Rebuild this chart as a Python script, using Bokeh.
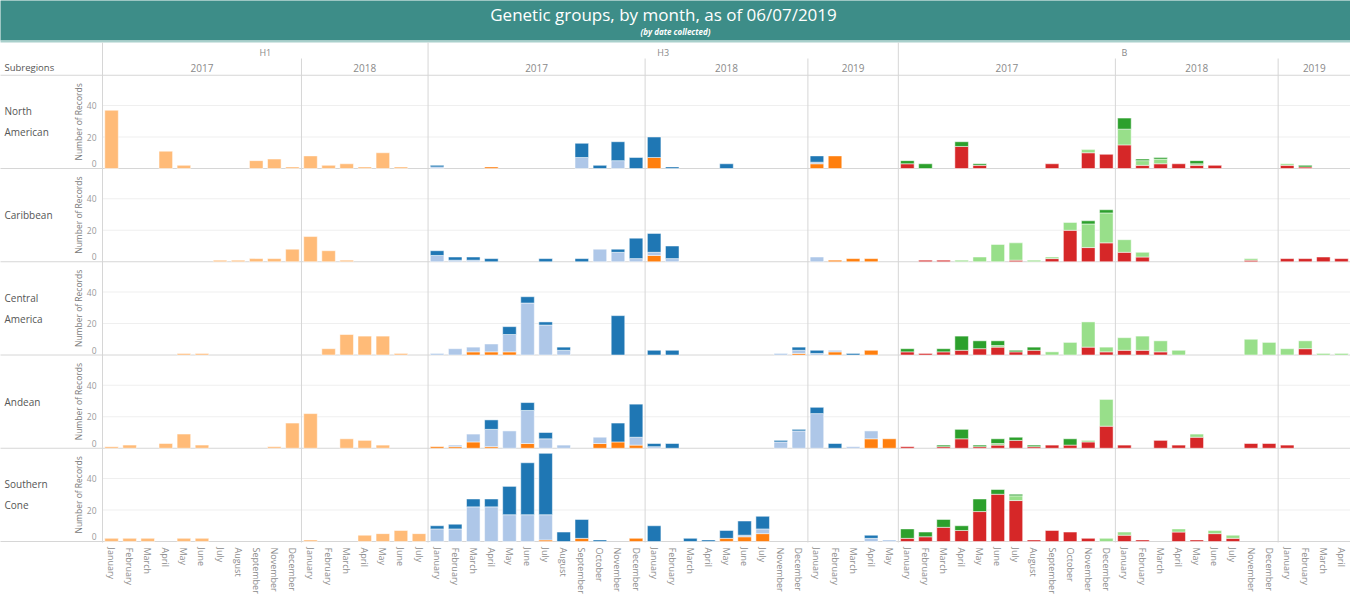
import math
from bokeh.plotting import figure
from bokeh.models import Range1d, FixedTicker, ColumnDataSource
from bokeh.core.properties import value
from bokeh.embed import file_html
from bokeh.resources import INLINE

# ---------------- data ----------------
TITLE = "Genetic groups, by month, as of 06/07/2019"
SUBTITLE = "(by date collected)"
REGIONS = ["North American", "Caribbean", "Central America", "Andean", "Southern Cone"]
REGION_LABELS = ["North\nAmerican", "Caribbean", "Central\nAmerica", "Andean", "Southern\nCone"]

ALL_MONTHS = ["January", "February", "March", "April", "May", "June", "July",
              "August", "September", "October", "November", "December"]
H1_PERIODS = [("2017", ["January", "February", "March", "April", "May", "June", "July",
                        "August", "September", "November", "December"]),
              ("2018", ["January", "February", "March", "April", "May", "June", "July"])]
H3_PERIODS = [("2017", ALL_MONTHS),
              ("2018", ["January", "February", "March", "April", "May", "June", "July",
                        "November", "December"]),
              ("2019", ["January", "February", "March", "April", "May"])]
B_PERIODS = [("2017", ALL_MONTHS),
             ("2018", ["January", "February", "March", "April", "May", "June", "July",
                       "November", "December"]),
             ("2019", ["January", "February", "March", "April"])]

# H1 (one genetic group)
H1_VALUES = {
    "North American":  [37, 0, 0, 11, 2, 0, 0, 0, 5, 6, 1,   8, 2, 3, 1, 10, 1, 0],
    "Caribbean":       [0, 0, 0, 0, 0, 0, 1, 1, 2, 2, 8,     16, 7, 1, 0, 0, 0, 0],
    "Central America": [0, 0, 0, 0, 1, 1, 0, 0, 0, 0, 0,     0, 4, 13, 12, 12, 1, 0],
    "Andean":          [1, 2, 0, 3, 9, 2, 0, 0, 0, 1, 16,    22, 0, 6, 5, 2, 0, 0],
    "Southern Cone":   [2, 2, 2, 0, 2, 2, 0, 0, 0, 0, 0,     1, 0, 0, 4, 5, 7, 5],
}

# H3 groups: orange, light blue, dark blue
H3_ORANGE = {
    "North American":  [0, 0, 0, 1, 0, 0, 0, 0, 0, 0, 0, 0,   7, 0, 0, 0, 0, 0, 0, 0, 0,   3, 8, 0, 0, 0],
    "Caribbean":       [0, 0, 0, 0, 0, 0, 0, 0, 0, 0, 0, 0,   4, 0, 0, 0, 0, 0, 0, 0, 0,   0, 1, 2, 2, 0],
    "Central America": [0, 0, 2, 2, 2, 0, 0, 0, 0, 0, 0, 0,   0, 0, 0, 0, 0, 0, 0, 0, 1,   0, 2, 0, 3, 0],
    "Andean":          [1, 1, 4, 1, 0, 3, 0, 0, 0, 3, 4, 2,   0, 0, 0, 0, 0, 0, 0, 0, 0,   0, 0, 0, 6, 6],
    "Southern Cone":   [0, 0, 0, 0, 0, 0, 1, 0, 2, 0, 0, 2,   0, 0, 0, 0, 2, 3, 5, 0, 0,   0, 0, 0, 0, 0],
}
H3_LIGHT_BLUE = {
    "North American":  [1, 0, 0, 0, 0, 0, 0, 0, 7, 0, 5, 0,   0, 0, 0, 0, 0, 0, 0, 0, 0,   1, 0, 0, 0, 0],
    "Caribbean":       [4, 1, 1, 0, 0, 0, 0, 0, 0, 8, 6, 2,   2, 2, 0, 0, 0, 0, 0, 0, 0,   3, 0, 0, 0, 0],
    "Central America": [1, 4, 3, 5, 11, 33, 19, 3, 0, 0, 0, 0, 0, 0, 0, 0, 0, 0, 0, 1, 2,   1, 1, 0, 0, 0],
    "Andean":          [0, 1, 5, 11, 11, 21, 6, 2, 0, 4, 0, 5, 1, 0, 0, 0, 0, 0, 0, 4, 11, 22, 0, 1, 5, 0],
    "Southern Cone":   [8, 8, 22, 22, 17, 17, 16, 0, 0, 0, 0, 0, 0, 0, 0, 0, 0, 1, 3, 0, 0, 0, 0, 0, 2, 1],
}
H3_BLUE = {
    "North American":  [1, 0, 0, 0, 0, 0, 0, 0, 9, 2, 12, 7,  13, 1, 0, 0, 3, 0, 0, 0, 0,  4, 0, 0, 0, 0],
    "Caribbean":       [3, 2, 2, 2, 0, 0, 2, 0, 2, 0, 2, 13,  12, 8, 0, 0, 0, 0, 0, 0, 0,  0, 0, 0, 0, 0],
    "Central America": [0, 0, 0, 0, 5, 4, 2, 2, 0, 0, 25, 0,  3, 3, 0, 0, 0, 0, 0, 0, 2,   2, 0, 1, 0, 0],
    "Andean":          [0, 0, 0, 6, 0, 5, 4, 0, 0, 0, 12, 21, 2, 3, 0, 0, 0, 0, 0, 1, 1,   4, 3, 0, 0, 0],
    "Southern Cone":   [2, 3, 5, 5, 18, 33, 39, 6, 12, 1, 0, 0, 10, 0, 2, 1, 5, 9, 8, 0, 0, 0, 0, 0, 2, 0],
}

# B groups: red, light green, green
B_RED = {
    "North American":  [3, 0, 0, 14, 2, 0, 0, 0, 3, 0, 10, 9,  15, 2, 3, 3, 2, 2, 0, 0, 0,  2, 1, 0, 0],
    "Caribbean":       [0, 1, 1, 0, 0, 0, 1, 0, 2, 20, 9, 12,   6, 3, 0, 0, 0, 0, 0, 1, 0,   2, 2, 3, 2],
    "Central America": [2, 1, 2, 3, 4, 5, 2, 3, 0, 0, 5, 2,     3, 3, 2, 0, 0, 0, 0, 0, 0,   0, 4, 0, 0],
    "Andean":          [1, 0, 1, 6, 1, 2, 5, 1, 2, 2, 4, 14,    2, 0, 5, 2, 7, 0, 0, 3, 3,   2, 0, 0, 0],
    "Southern Cone":   [2, 3, 9, 7, 19, 30, 26, 1, 7, 6, 2, 0,  4, 1, 0, 6, 1, 5, 2, 0, 0,   0, 0, 0, 0],
}
B_LIGHT_GREEN = {
    "North American":  [0, 0, 0, 0, 0, 0, 0, 0, 0, 0, 2, 0,    10, 3, 3, 0, 1, 0, 0, 0, 0,  1, 0, 0, 0],
    "Caribbean":       [0, 0, 0, 1, 3, 11, 11, 1, 1, 5, 15, 19, 8, 3, 0, 0, 0, 0, 0, 1, 0,   0, 0, 0, 0],
    "Central America": [0, 0, 0, 0, 0, 1, 0, 0, 2, 8, 16, 3,   8, 9, 7, 3, 0, 0, 0, 10, 8,  4, 5, 1, 1],
    "Andean":          [0, 0, 0, 0, 0, 1, 0, 0, 0, 0, 1, 17,   0, 0, 0, 0, 2, 0, 0, 0, 0,   0, 0, 0, 0],
    "Southern Cone":   [0, 0, 0, 0, 0, 0, 3, 0, 0, 0, 0, 2,    2, 0, 0, 2, 0, 2, 2, 0, 0,   0, 0, 0, 0],
}
B_GREEN = {
    "North American":  [2, 3, 0, 3, 1, 0, 0, 0, 0, 0, 0, 0,    7, 1, 1, 0, 2, 0, 0, 0, 0,   0, 1, 0, 0],
    "Caribbean":       [0, 0, 0, 0, 0, 0, 0, 0, 0, 0, 2, 2,    0, 0, 0, 0, 0, 0, 0, 0, 0,   0, 0, 0, 0],
    "Central America": [2, 0, 2, 9, 5, 3, 1, 2, 0, 0, 0, 0,    0, 0, 0, 0, 0, 0, 0, 0, 0,   0, 0, 0, 0],
    "Andean":          [0, 0, 1, 6, 1, 3, 2, 1, 0, 4, 0, 0,    0, 0, 0, 0, 0, 0, 0, 0, 0,   0, 0, 0, 0],
    "Southern Cone":   [6, 3, 5, 3, 8, 3, 1, 0, 0, 0, 0, 0,    0, 0, 0, 0, 0, 0, 0, 0, 0,   0, 0, 0, 0],
}

Y_TICKS = [0, 20, 40]

# ---------------- styles / layout ----------------
TYPES = [
    ("H1", H1_PERIODS, [(H1_VALUES, "#ffbb78")]),
    ("H3", H3_PERIODS, [(H3_ORANGE, "#ff7f0e"), (H3_LIGHT_BLUE, "#aec7e8"), (H3_BLUE, "#1f77b4")]),
    ("B", B_PERIODS, [(B_RED, "#d62728"), (B_LIGHT_GREEN, "#98df8a"), (B_GREEN, "#2ca02c")]),
]

FONT = value("Open Sans")
PXC = 18.087    # pixels per month column
PPR = 1.575     # pixels per record
W, H = 1350, 598


def xd(page_x):
    return (page_x - 110) / PXC - 0.5


def yd(page_y):
    return (549 - page_y) / PPR


ROWH = 93.25 / PPR
NROW = len(REGIONS)
bases = [(NROW - 1 - r) * ROWH for r in range(NROW)]

p = figure(width=W, height=H, output_backend="svg", toolbar_location=None,
           x_range=Range1d(xd(8), xd(1358)), y_range=Range1d(yd(550), yd(8)),
           y_axis_location=None, x_axis_location="below",
           min_border_left=0, min_border_right=0, min_border_top=0, min_border_bottom=56)
p.outline_line_color = None
p.xgrid.visible = False
p.ygrid.visible = False
p.background_fill_color = "white"

# ---- columns ----
col_x, col_names = [], []
type_spans, year_spans = [], []
seg = dict(x=[], bottom=[], top=[], color=[])
c = 0
for tname, periods, series in TYPES:
    t_start = c
    k = 0
    for year, months in periods:
        y_start = c
        for m in months:
            col_x.append(c)
            col_names.append(m)
            for r, reg in enumerate(REGIONS):
                cum = 0
                for vals, color in series:
                    v = vals[reg][k]
                    if v > 0:
                        seg["x"].append(c)
                        seg["bottom"].append(bases[r] + cum)
                        seg["top"].append(bases[r] + cum + v)
                        seg["color"].append(color)
                    cum += v
            c += 1
            k += 1
        year_spans.append((year, y_start, c - 1, y_start != t_start))
    type_spans.append((tname, t_start, c - 1))
NCOL = c

# ---- banner ----
p.quad(left=[xd(7)], right=[xd(1360)], top=[yd(2)], bottom=[yd(48)],
       fill_color="#3d8d88", line_color=None)
p.quad(left=[xd(7)], right=[xd(1360)], top=[yd(48)], bottom=[yd(50)],
       fill_color="#a9d0cc", line_color=None)
p.text(x=[xd(671)], y=[yd(22)], text=[TITLE], text_align="center", text_baseline="middle",
       text_color="white", text_font=FONT, text_font_size="17px")
p.text(x=[xd(683)], y=[yd(39)], text=[SUBTITLE], text_align="center", text_baseline="middle",
       text_color="white", text_font=FONT, text_font_size="8px", text_font_style="bold italic")

# ---- gridlines ----
gx0, gx1, gy = [], [], []
for b in bases:
    for t in Y_TICKS[1:]:
        gx0.append(-0.5); gx1.append(NCOL - 0.5); gy.append(b + t)
p.segment(x0=gx0, x1=gx1, y0=gy, y1=gy, line_color="#efefef", line_width=1)

# ---- horizontal separators ----
hy = [bases[0] + ROWH] + bases
p.segment(x0=[xd(7)] * len(hy), x1=[xd(1358)] * len(hy), y0=hy, y1=hy,
          line_color="#d6d6d6", line_width=1)

# ---- vertical separators ----
vx, vy1 = [], []
for tname, s, e in type_spans:
    vx.append(s - 0.5); vy1.append(yd(50))
for year, s, e, inner in year_spans:
    if inner:
        vx.append(s - 0.5); vy1.append(yd(66))
p.segment(x0=vx, x1=vx, y0=[yd(552)] * len(vx), y1=vy1, line_color="#d6d6d6", line_width=1)

# ---- bars ----
p.vbar(x="x", bottom="bottom", top="top", width=0.75, fill_color="color",
       line_color="white", line_width=0.5, source=ColumnDataSource(seg))

# ---- headers ----
p.text(x=[(s + e) / 2 for _, s, e in type_spans], y=[yd(60)] * len(type_spans),
       text=[t for t, _, _ in type_spans], text_align="center", text_baseline="middle",
       text_color="#8a8a8a", text_font=FONT, text_font_size="9px")
p.text(x=[(s + e) / 2 for _, s, e, _ in year_spans], y=[yd(75)] * len(year_spans),
       text=[yr for yr, _, _, _ in year_spans], text_align="center", text_baseline="middle",
       text_color="#8a8a8a", text_font=FONT, text_font_size="10px")
p.text(x=[xd(12)], y=[yd(75)], text=["Subregions"], text_align="left", text_baseline="middle",
       text_color="#555555", text_font=FONT, text_font_size="9.5px")

# ---- row labels ----
p.text(x=[xd(12)] * NROW, y=[b + ROWH / 2 for b in bases], text=REGION_LABELS,
       text_align="left", text_baseline="middle", text_color="#555555",
       text_font=FONT, text_font_size="10px", text_line_height=1.5)
p.text(x=[xd(86)] * NROW, y=[b + ROWH / 2 for b in bases], text=["Number of Records"] * NROW,
       angle=math.pi / 2, text_align="center", text_baseline="middle", text_color="#7a7a7a",
       text_font=FONT, text_font_size="8.5px")
tx, ty, tt = [], [], []
for b in bases:
    for t in Y_TICKS:
        tx.append(xd(104)); ty.append(b + t); tt.append(str(t))
p.text(x=tx, y=ty, text=tt, text_align="right", text_baseline="middle",
       text_color="#9a9a9a", text_font=FONT, text_font_size="8.5px",
       y_offset=[-5 if v == "0" else 0 for v in tt])

# ---- month axis ----
ax = p.xaxis[0]
ax.ticker = FixedTicker(ticks=col_x)
ax.major_label_overrides = {x: n for x, n in zip(col_x, col_names)}
ax.major_label_orientation = "vertical"
ax.axis_line_color = None
ax.major_tick_line_color = None
ax.minor_tick_line_color = None
ax.major_tick_out = 0
ax.major_label_standoff = 5
ax.major_label_text_font = "Open Sans"
ax.major_label_text_font_size = "9px"
ax.major_label_text_color = "#8c8c8c"

open("out.html", "w").write(file_html(p, INLINE))
